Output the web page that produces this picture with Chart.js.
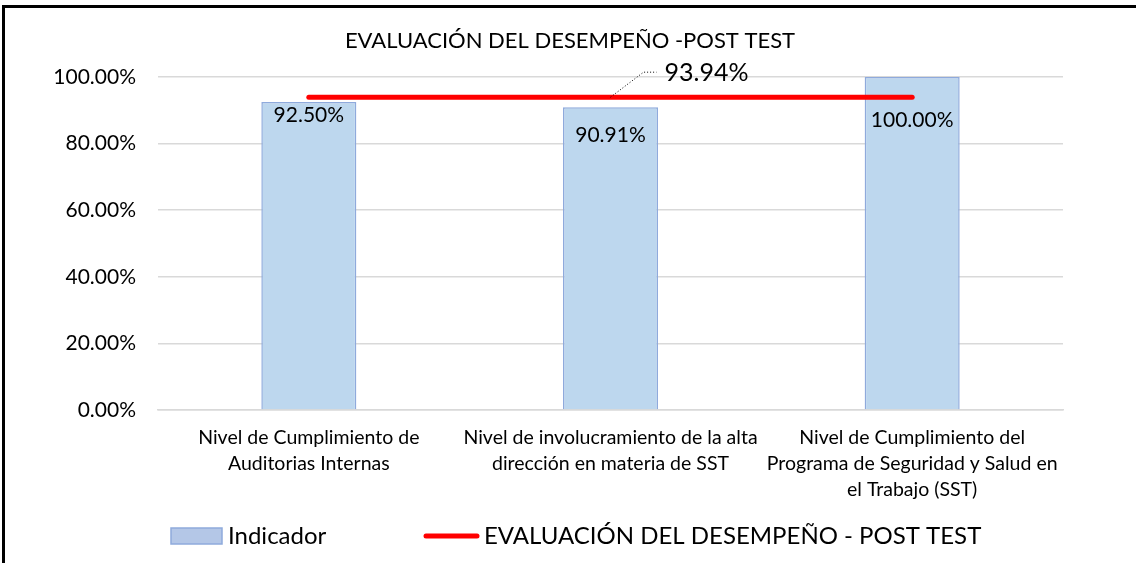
<!DOCTYPE html>
<html lang="es">
<head>
<meta charset="utf-8">
<title>Evaluación del desempeño - post test</title>
<script src="https://cdn.jsdelivr.net/npm/chart.js@4.4.1/dist/chart.umd.min.js"></script>
<style>
    html, body { margin: 0; padding: 0; background: #fff; }
    #wrap { position: relative; width: 1136px; height: 563px; overflow: hidden; }
    #frame {
        position: absolute; left: 2px; top: 5px; right: -10px; bottom: -10px;
        border-top: 3px solid #000; border-left: 3px solid #000;
        pointer-events: none;
    }
</style>
</head>
<body>
<div id="wrap">
    <canvas id="chart" width="1136" height="563"></canvas>
    <div id="frame"></div>
</div>
<script>
// Chart data
const categories = [
    ['Nivel de Cumplimiento de', 'Auditorias Internas'],
    ['Nivel de involucramiento de la alta', 'dirección en materia de SST'],
    ['Nivel de Cumplimiento del', 'Programa de Seguridad y Salud en', 'el Trabajo (SST)']
];
const indicatorValues = [92.50, 90.91, 100.00];
const postTestValues = [93.94, 93.94, 93.94];
const yTicks = [0, 20, 40, 60, 80, 100];

const chartTitle = 'EVALUACIÓN DEL DESEMPEÑO -POST TEST';
const barLabel = 'Indicador';
const lineLabel = 'EVALUACIÓN DEL DESEMPEÑO - POST TEST';

const FONT = 'Lato, "Noto Sans", sans-serif';

// how far below the top of each bar its value label sits (px)
const barLabelDrop = [13, 28, 43];

const fmt = v => v.toFixed(2) + '%';

// title centred on the whole canvas (the built-in one ignores the right padding)
const canvasTitle = {
    id: 'canvasTitle',
    afterDraw(chart) {
        const ctx = chart.ctx;
        ctx.save();
        ctx.fillStyle = '#000';
        ctx.font = '22px ' + FONT;
        ctx.textAlign = 'center';
        ctx.textBaseline = 'middle';
        ctx.fillText(chartTitle, 570, 41);
        ctx.restore();
    }
};

// value labels on the bars + callout for the line
const valueLabels = {
    id: 'valueLabels',
    afterDatasetsDraw(chart) {
        const ctx = chart.ctx;
        ctx.save();
        ctx.fillStyle = '#000';
        ctx.textAlign = 'center';
        ctx.textBaseline = 'middle';
        ctx.font = '21px ' + FONT;
        chart.getDatasetMeta(1).data.forEach((bar, i) => {
            ctx.fillText(fmt(indicatorValues[i]), bar.x, bar.y + barLabelDrop[i]);
        });

        // callout on the middle point of the line
        const pt = chart.getDatasetMeta(0).data[1];
        ctx.strokeStyle = '#000';
        ctx.lineWidth = 1;
        ctx.setLineDash([1, 2]);
        ctx.beginPath();
        ctx.moveTo(pt.x, pt.y);
        ctx.lineTo(pt.x + 33, pt.y - 25);
        ctx.lineTo(pt.x + 46, pt.y - 25);
        ctx.stroke();
        ctx.setLineDash([]);
        ctx.textAlign = 'left';
        ctx.font = '25px ' + FONT;
        ctx.fillText(fmt(postTestValues[1]), pt.x + 54, pt.y - 24);
        ctx.restore();
    }
};

// legend drawn under the axis
const bottomLegend = {
    id: 'bottomLegend',
    afterDraw(chart) {
        const ctx = chart.ctx;
        const bars = chart.data.datasets[1];
        const line = chart.data.datasets[0];
        const y = 536;
        ctx.save();
        ctx.fillStyle = '#b4c7e7';
        ctx.strokeStyle = bars.borderColor;
        ctx.lineWidth = 1.5;
        ctx.fillRect(171, y - 8, 51, 16);
        ctx.strokeRect(171, y - 8, 51, 16);

        ctx.strokeStyle = line.borderColor;
        ctx.lineWidth = 5;
        ctx.lineCap = 'round';
        ctx.beginPath();
        ctx.moveTo(426, y);
        ctx.lineTo(477, y);
        ctx.stroke();

        ctx.fillStyle = '#000';
        ctx.font = '24px ' + FONT;
        ctx.textBaseline = 'middle';
        ctx.fillText(bars.label, 228, y);
        ctx.fillText(line.label, 484, y);
        ctx.restore();
    }
};

const ctx = document.getElementById('chart').getContext('2d');
new Chart(ctx, {
    data: {
        labels: categories,
        datasets: [
            {
                type: 'line',
                label: lineLabel,
                data: postTestValues,
                borderColor: '#ff0000',
                borderWidth: 5,
                borderCapStyle: 'round',
                pointRadius: 0,
                pointHoverRadius: 0,
                order: 0
            },
            {
                type: 'bar',
                label: barLabel,
                data: indicatorValues,
                backgroundColor: '#bdd7ee',
                borderColor: '#8faadc',
                borderWidth: 1.5,
                barPercentage: 0.315,
                categoryPercentage: 1,
                order: 1
            }
        ]
    },
    options: {
        responsive: false,
        animation: false,
        layout: { padding: { left: 0, right: 73, top: 77, bottom: 63 } },
        plugins: {
            legend: { display: false },
            tooltip: { enabled: false },
            title: { display: false }
        },
        scales: {
            x: {
                grid: { display: false, drawTicks: false },
                border: { display: true, color: '#d9d9d9', width: 1.5 },
                ticks: {
                    color: '#000',
                    padding: 15,
                    maxRotation: 0,
                    font: { family: FONT, size: 19.5, lineHeight: 1.33 }
                },
                afterFit(scale) { scale.height = 90; }
            },
            y: {
                min: 0,
                max: 100,
                afterBuildTicks(scale) { scale.ticks = yTicks.map(v => ({ value: v })); },
                grid: { color: '#d9d9d9', lineWidth: 1.5, drawTicks: false },
                border: { display: false },
                ticks: {
                    color: '#000',
                    padding: 22,
                    font: { family: FONT, size: 21 },
                    callback: v => fmt(v)
                },
                afterFit(scale) { scale.width = 158; }
            }
        }
    },
    plugins: [canvasTitle, valueLabels, bottomLegend]
});
</script>
</body>
</html>
